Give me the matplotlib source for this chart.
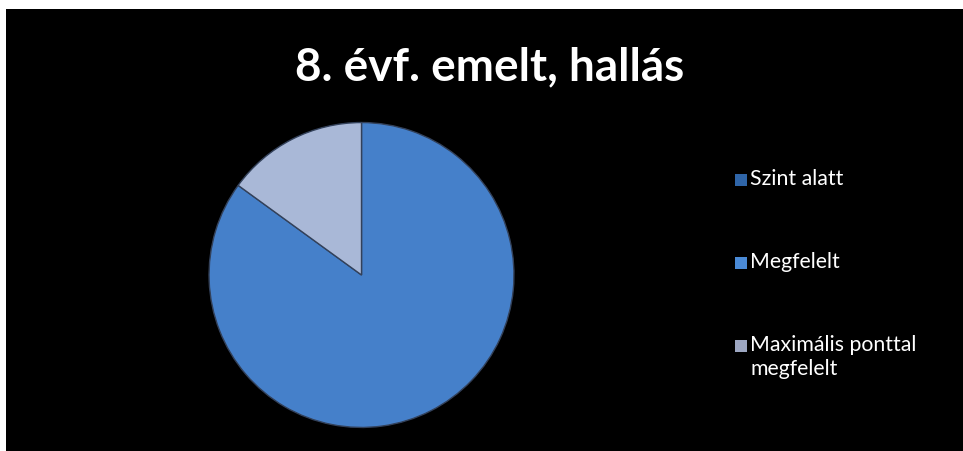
import matplotlib
matplotlib.use("Agg")
import matplotlib.pyplot as plt
from matplotlib.patches import Rectangle

# Data
title = "8. évf. emelt, hallás"
labels = ["Szint alatt", "Megfelelt", "Maximális ponttal\nmegfelelt"]
values = [0, 85, 15]
colors = ["#2f65a8", "#4580ca", "#a9b8d7"]
legend_colors = ["#2f65a8", "#4a8ad6", "#9da7c2"]

plt.rcParams['font.family'] = ['Lato', 'DejaVu Sans']

fig = plt.figure(figsize=(9.63, 4.52), dpi=100)
fig.patch.set_facecolor("white")
# black slide background (white strip at top and left)
fig.patches.append(Rectangle((6 / 963, -0.01), 1, 1.01 - 10 / 452, transform=fig.transFigure,
                             facecolor="black", edgecolor="none", zorder=-5))

ax = fig.add_axes([0.2155, 0.0487, 0.3198, 0.6814], zorder=2)
ax.set_facecolor("none")
wedges, _ = ax.pie(values, colors=colors, startangle=90, counterclock=False,
                   radius=1, wedgeprops=dict(edgecolor="#33415a", linewidth=1.0))
ax.set_xlim(-1.01, 1.01)
ax.set_ylim(-1.01, 1.01)
ax.axis("off")

fig.text(490 / 963, 1 - 80 / 452, title, color="white", fontsize=33,
         fontweight="bold", ha="center", va="baseline")

# legend
ys = [181, 264, 347]
for lab, col, y in zip(labels, legend_colors, ys):
    fig.patches.append(Rectangle((735 / 963, 1 - (y + 6) / 452), 12 / 963, 12 / 452,
                                 transform=fig.transFigure, facecolor=col,
                                 edgecolor="none", zorder=3))
    fig.text(750 / 963, 1 - (y - 12) / 452, lab, color="white", fontsize=15.3,
             ha="left", va="top", linespacing=1.28)

fig.savefig("out.png", dpi=100, facecolor=fig.get_facecolor())
